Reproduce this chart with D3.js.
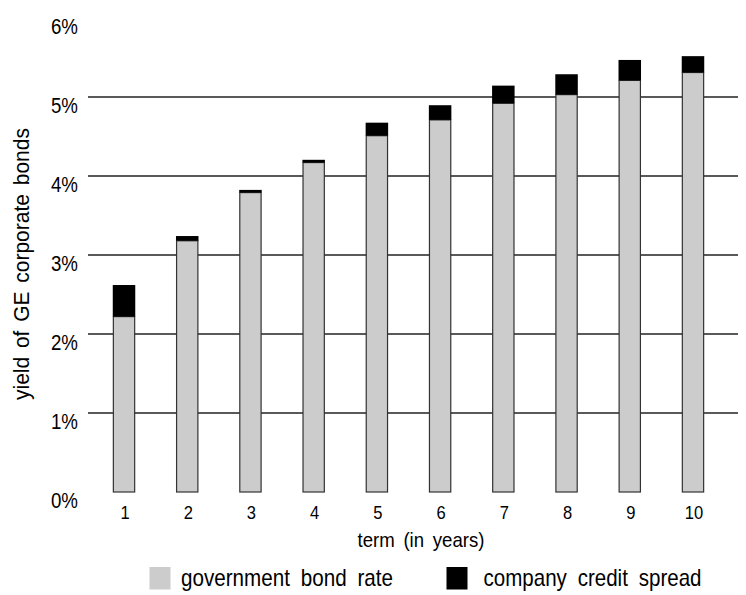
<!DOCTYPE html>
<html>
<head>
<meta charset="utf-8">
<script src="https://cdn.jsdelivr.net/npm/d3@7"></script>
<style>
  html, body { margin: 0; padding: 0; background: #fff; }
  svg text { font-family: "Liberation Sans", Arial, sans-serif; fill: #000; }
</style>
</head>
<body>
<svg id="chart" width="746" height="595"></svg>
<script>
// Term structure of GE bond yields: government rate plus company credit spread (in %)
const terms = [1, 2, 3, 4, 5, 6, 7, 8, 9, 10];
const govRate = [2.22, 3.18, 3.79, 4.17, 4.51, 4.71, 4.92, 5.03, 5.21, 5.31];
const creditSpread = [0.40, 0.06, 0.034, 0.035, 0.165, 0.186, 0.224, 0.258, 0.259, 0.207];
const yTicks = [0, 1, 2, 3, 4, 5, 6];
const gridValues = [1, 2, 3, 4, 5];
const seriesNames = ["government bond rate", "company credit spread"];
const seriesColors = ["#cccccc", "#000000"];

const svg = d3.select("#chart");

// squeeze text horizontally to a narrow face
function narrow(sel, factor) {
  sel.each(function () {
    const w = this.getComputedTextLength();
    d3.select(this)
      .attr("textLength", w * factor)
      .attr("lengthAdjust", "spacingAndGlyphs");
  });
}

const x = d3.scaleBand()
  .domain(terms)
  .range([92.4, 724.6])
  .paddingInner(0.663)
  .paddingOuter(0.3315);

const y = d3.scaleLinear()
  .domain([0, 6])
  .range([492, 18]);

// horizontal gridlines
svg.append("g")
  .selectAll("line")
  .data(gridValues)
  .join("line")
  .attr("x1", 88)
  .attr("x2", 738)
  .attr("y1", d => y(d))
  .attr("y2", d => y(d))
  .attr("stroke", "#222")
  .attr("stroke-width", 1.4);

// y-axis tick labels
svg.append("g")
  .selectAll("text")
  .data(yTicks)
  .join("text")
  .attr("x", 78)
  .attr("y", d => y(d) + 16)
  .attr("text-anchor", "end")
  .style("font-size", "22px")
  .text(d => d + "%")
  .call(narrow, 0.85);

// stacked bars
const bars = svg.append("g")
  .selectAll("g")
  .data(terms.map((t, i) => ({ t, gov: govRate[i], spread: creditSpread[i] })))
  .join("g");

bars.append("rect")
  .attr("x", d => x(d.t))
  .attr("width", x.bandwidth())
  .attr("y", d => y(d.gov))
  .attr("height", d => y(0) - y(d.gov))
  .attr("fill", seriesColors[0])
  .attr("stroke", "#333")
  .attr("stroke-width", 1.2);

bars.append("rect")
  .attr("x", d => x(d.t) - 0.6)
  .attr("width", x.bandwidth() + 1.2)
  .attr("y", d => y(d.gov + d.spread))
  .attr("height", d => y(d.gov) - y(d.gov + d.spread))
  .attr("fill", seriesColors[1]);

// x-axis tick labels
svg.append("g")
  .selectAll("text")
  .data(terms)
  .join("text")
  .attr("x", d => x(d) + x.bandwidth() / 2 + 1)
  .attr("y", 519)
  .attr("text-anchor", "middle")
  .style("font-size", "19px")
  .text(d => d)
  .call(narrow, 0.87);

// axis titles
svg.append("text")
  .attr("x", 421)
  .attr("y", 547)
  .attr("text-anchor", "middle")
  .style("font-size", "21px")
  .style("word-spacing", "4px")
  .attr("textLength", 127)
  .attr("lengthAdjust", "spacingAndGlyphs")
  .text("term (in years)");

svg.append("text")
  .attr("transform", "translate(29,264) rotate(-90)")
  .attr("text-anchor", "middle")
  .style("font-size", "22px")
  .style("word-spacing", "3px")
  .attr("textLength", 272)
  .attr("lengthAdjust", "spacingAndGlyphs")
  .text("yield of GE corporate bonds");

// legend
const legendX = [149.5, 446.5];
const legendTextWidth = [212, 218];
const legend = svg.append("g")
  .selectAll("g")
  .data(seriesNames)
  .join("g")
  .attr("transform", (d, i) => `translate(${legendX[i]},567)`);

legend.append("rect")
  .attr("width", 21)
  .attr("height", 22.5)
  .attr("fill", (d, i) => seriesColors[i]);

legend.append("text")
  .attr("x", (d, i) => i === 0 ? 31.5 : 37)
  .attr("y", 19)
  .style("font-size", "24px")
  .style("word-spacing", "6px")
  .attr("textLength", (d, i) => legendTextWidth[i])
  .attr("lengthAdjust", "spacingAndGlyphs")
  .text(d => d);
</script>
</body>
</html>
